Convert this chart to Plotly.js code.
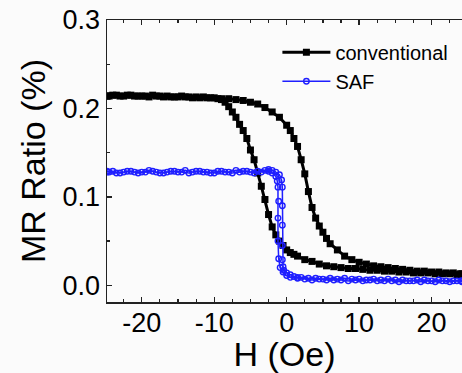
<!DOCTYPE html>
<html>
<head>
<meta charset="utf-8">
<script src="https://cdn.plot.ly/plotly-3.0.1.min.js"></script>
<style>
html,body{margin:0;padding:0;background:#fbfbfb;overflow:hidden;}
#chart{width:462px;height:373px;}
</style>
</head>
<body>
<div id="chart"></div>
<script>
// conventional: field sweep up (negative -> positive)
const convUpX = [-24.8,-24,-23,-22,-21,-20,-19,-18,-17,-16,-15,-14,-13,-12,-11,-10,-9,-8,-7,-6,-5,-4,-3,-2,-1,0,0.5,1,1.5,2,2.5,3,3.5,4,4.5,5,5.5,6,7,8,9,10,11,12,13,14,15,16,17,18,19,20,21,22,23,24,24.2];
const convUpY = [0.214,0.215,0.214,0.215,0.214,0.214,0.213,0.214,0.213,0.213,0.213,0.213,0.212,0.212,0.212,0.212,0.211,0.211,0.210,0.209,0.207,0.205,0.201,0.196,0.190,0.181,0.175,0.166,0.157,0.142,0.126,0.106,0.088,0.076,0.067,0.060,0.053,0.047,0.040,0.033,0.029,0.026,0.024,0.022,0.021,0.020,0.019,0.018,0.017,0.016,0.016,0.015,0.015,0.014,0.014,0.013,0.013];
// conventional: field sweep down (positive -> negative)
const convDnX = [24.2,23.5,22.5,21.5,20.5,19.5,18.5,17.5,16.5,15.5,14.5,13.5,12.5,11.5,10.5,9.5,8.5,7.5,6.5,5.5,4.5,3.5,2.5,1.5,1,0.5,0,-0.5,-1,-1.5,-2,-2.5,-3,-3.5,-4,-4.5,-5,-5.5,-6,-6.5,-7,-7.5,-8,-8.5,-9,-9.5,-10.5,-11.5,-12.5,-13.5,-14.5,-15.5,-16.5,-17.5,-18.5,-19.5,-20.5,-21.5,-22.5,-23.5,-24.5,-24.8];
const convDnY = [0.012,0.012,0.013,0.013,0.013,0.014,0.014,0.014,0.015,0.015,0.016,0.016,0.017,0.017,0.018,0.019,0.019,0.020,0.021,0.022,0.024,0.027,0.029,0.033,0.035,0.037,0.040,0.045,0.050,0.057,0.066,0.080,0.097,0.112,0.127,0.142,0.153,0.166,0.175,0.182,0.190,0.196,0.202,0.207,0.210,0.211,0.212,0.213,0.213,0.213,0.214,0.213,0.214,0.214,0.215,0.214,0.214,0.215,0.214,0.215,0.214,0.214];
// SAF: field sweep up
const safUpX = [-24.8,-24,-23,-22,-21,-20,-19,-18,-17,-16,-15,-14,-13,-12,-11,-10,-9,-8,-7,-6,-5,-4,-3,-2.5,-2,-1.5,-1,-0.7,-0.6,-0.6,-0.6,-0.6,-0.6,-0.5,-0.4,0,0.5,1,1.5,2,3,4,5,6,7,8,9,10,11,12,13,14,15,16,17,18,19,20,21,22,23,24,24.2];
const safUpY = [0.128,0.129,0.127,0.129,0.128,0.128,0.130,0.128,0.127,0.129,0.128,0.130,0.128,0.129,0.128,0.127,0.129,0.128,0.130,0.129,0.128,0.129,0.130,0.131,0.130,0.128,0.125,0.119,0.111,0.090,0.068,0.045,0.029,0.021,0.017,0.014,0.012,0.010,0.009,0.009,0.008,0.008,0.007,0.008,0.007,0.008,0.007,0.007,0.006,0.007,0.006,0.007,0.006,0.006,0.005,0.006,0.006,0.005,0.006,0.005,0.005,0.005,0.005];
// SAF: field sweep down
const safDnX = [24.2,23.5,22.5,21.5,20.5,19.5,18.5,17.5,16.5,15.5,14.5,13.5,12.5,11.5,10.5,9.5,8.5,7.5,6.5,5.5,4.5,3.5,2.5,1.5,0.5,0,-0.5,-0.9,-1.1,-1.2,-1.2,-1.1,-1.2,-1.3,-1.5,-2,-2.5,-3.5,-4.5,-5.5,-6.5,-7.5,-8.5,-9.5,-10.5,-11.5,-12.5,-13.5,-14.5,-15.5,-16.5,-17.5,-18.5,-19.5,-20.5,-21.5,-22.5,-23.5,-24.5,-24.8];
const safDnY = [0.004,0.005,0.004,0.005,0.004,0.005,0.004,0.005,0.005,0.004,0.005,0.005,0.005,0.006,0.005,0.006,0.005,0.006,0.006,0.006,0.007,0.006,0.007,0.008,0.009,0.011,0.015,0.020,0.030,0.050,0.076,0.095,0.111,0.118,0.123,0.127,0.129,0.128,0.127,0.129,0.128,0.127,0.128,0.129,0.127,0.128,0.129,0.127,0.128,0.129,0.128,0.127,0.129,0.128,0.127,0.129,0.128,0.127,0.128,0.129];

const xTickVals = [-20,-10,0,10,20];
const xTickText = ['-20','-10','0','10','20'];
const yTickVals = [0.0,0.1,0.2,0.3];
const yTickText = ['0.0','0.1','0.2','0.3'];

const convX = convUpX.concat(convDnX);
const convY = convUpY.concat(convDnY);
const safX = safUpX.concat(safDnX);
const safY = safUpY.concat(safDnY);

const FONT = 'Liberation Sans, Arial, sans-serif';

const traces = [
  {x: convX, y: convY, name: 'conventional', type: 'scatter', mode: 'lines+markers',
   line: {color: '#000000', width: 3},
   marker: {symbol: 'square', size: 7, color: '#000000'}},
  {x: safX, y: safY, name: 'SAF', type: 'scatter', mode: 'lines+markers',
   line: {color: '#1f1fff', width: 1.5},
   marker: {symbol: 'circle-open', size: 5.5, color: '#1f1fff', line: {width: 1.4, color: '#1f1fff'}}}
];

const layout = {
  width: 462, height: 373,
  margin: {l: 107, r: 0, t: 20, b: 71, pad: 0},
  paper_bgcolor: '#fbfbfb', plot_bgcolor: '#fbfbfb',
  font: {family: FONT, color: '#000'},
  showlegend: true,
  legend: {x: 0.48, y: 0.955, xanchor: 'left', yanchor: 'top', bgcolor: 'rgba(0,0,0,0)',
           font: {family: FONT, size: 20, color: '#000'}, tracegroupgap: 0, itemwidth: 48},
  xaxis: {
    range: [-24.8, 24.2], tickvals: xTickVals, ticktext: xTickText, ticks: 'inside', ticklen: 5, tickwidth: 1.3,
    tickcolor: '#222', showline: true, linecolor: '#222', linewidth: 1.5, mirror: 'ticks',
    zeroline: false, showgrid: false, ticklabelstandoff: -4,
    tickfont: {family: FONT, size: 27, color: '#000'},
    minor: {dtick: 2.5, ticks: 'inside', ticklen: 3, tickwidth: 1.2, tickcolor: '#222', showgrid: false},
    title: {text: 'H (Oe)', font: {family: FONT, size: 34, color: '#000'}, standoff: 8}
  },
  yaxis: {
    range: [-0.0189, 0.3], tickvals: yTickVals, ticktext: yTickText, ticks: 'inside', ticklen: 5, tickwidth: 1.3,
    tickcolor: '#222', showline: true, linecolor: '#222', linewidth: 1.5, mirror: false,
    zeroline: false, showgrid: false,
    tickfont: {family: FONT, size: 27, color: '#000'},
    minor: {dtick: 0.05, tick0: 0, ticks: 'inside', ticklen: 3, tickwidth: 1.2, tickcolor: '#222', showgrid: false},
    title: {text: 'MR Ratio (%)', font: {family: FONT, size: 34, color: '#000'}, standoff: 6}
  }
};

Plotly.newPlot('chart', traces, layout, {staticPlot: true, displayModeBar: false});
</script>
</body>
</html>
